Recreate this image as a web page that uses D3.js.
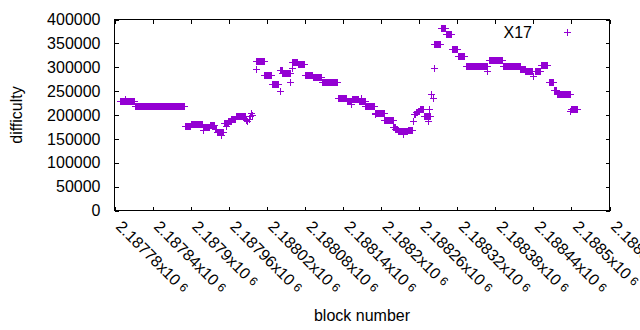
<!DOCTYPE html>
<html>
<head>
<meta charset="utf-8">
<script src="https://cdn.jsdelivr.net/npm/d3@7"></script>
<style>
  body { margin: 0; background: #fff; }
  text { font-family: "Liberation Sans", Arial, sans-serif; fill: #000; }
</style>
</head>
<body>
<div id="chart"></div>
<script>
const width = 640;
const height = 330;

// plot frame (pixel centres of the border lines)
const plotLeft = 114.5, plotRight = 609.5, plotTop = 19.5, plotBottom = 210.5;

// runs of blocks that share one difficulty value
const runStart = [2187789, 2187813, 2187892, 2187901, 2187920, 2187931, 2187939, 2187942,
    2187953, 2187960, 2187965, 2187972, 2188004, 2188017, 2188029, 2188042, 2188045,
    2188061, 2188070, 2188081, 2188093, 2188107, 2188133, 2188147, 2188155, 2188166,
    2188176, 2188192, 2188206, 2188220, 2188223, 2188227, 2188243, 2188253, 2188256,
    2188259, 2188262, 2188268, 2188285, 2188295, 2188303, 2188312, 2188322, 2188334,
    2188371, 2188393, 2188420, 2188428, 2188443, 2188453, 2188465, 2188473, 2188478,
    2188500];
const runEnd = [2187812, 2187891, 2187900, 2187919, 2187930, 2187938, 2187941, 2187952,
    2187959, 2187964, 2187971, 2187986, 2188016, 2188028, 2188039, 2188044, 2188057,
    2188069, 2188080, 2188092, 2188106, 2188132, 2188146, 2188153, 2188165, 2188175,
    2188190, 2188205, 2188219, 2188222, 2188226, 2188242, 2188250, 2188255, 2188258,
    2188261, 2188267, 2188278, 2188293, 2188302, 2188311, 2188321, 2188332, 2188367,
    2188392, 2188419, 2188427, 2188439, 2188452, 2188463, 2188471, 2188476, 2188498,
    2188509];
const runDifficulty = [229000, 218500, 175000, 181000, 174000, 177500, 170000, 164000,
    182500, 187000, 191500, 196000, 312500, 283500, 264500, 294000, 287500,
    310000, 306500, 282000, 279500, 268700, 235400, 229000, 233500, 228500,
    218500, 204000, 188000, 173000, 169000, 165500, 168000, 202000, 205000,
    208000, 212000, 197000, 348000, 381000, 368500, 337500, 323000, 301500,
    314300, 301500, 295000, 291500, 291000, 304500, 269000, 251000, 243700,
    211000];

// single blocks off their run
const oddBlock = [2187798, 2187920, 2187948, 2187957, 2187988, 2187990, 2187992, 2187994,
    2187996, 2187998, 2188003, 2188041, 2188058, 2188060, 2188154, 2188169, 2188191,
    2188235, 2188251, 2188275, 2188277, 2188279, 2188283, 2188284, 2188368, 2188440,
    2188494, 2188499];
const oddDifficulty = [232500, 167000, 157000, 175000, 188000, 186000, 190000, 197000,
    204000, 200000, 296000, 249500, 268700, 297000, 221400, 235000, 201000,
    159000, 186700, 187000, 211000, 242000, 234000, 298000, 292000, 281000,
    372000, 208000];

const xTicks = [2187780, 2187840, 2187900, 2187960, 2188020, 2188080, 2188140,
    2188200, 2188260, 2188320, 2188380, 2188440, 2188500, 2188560];
const xTickLabels = ["2.18778", "2.18784", "2.1879", "2.18796", "2.18802", "2.18808",
    "2.18814", "2.1882", "2.18826", "2.18832", "2.18838", "2.18844", "2.1885", "2.18856"];
const yTicks = [0, 50000, 100000, 150000, 200000, 250000, 300000, 350000, 400000];

const seriesName = "X17";
const color = "#9400d3";

const data = [];
runStart.forEach((s, i) => {
    for (let b = s; b <= runEnd[i]; b++) data.push({block: b, difficulty: runDifficulty[i]});
});
oddBlock.forEach((b, i) => data.push({block: b, difficulty: oddDifficulty[i]}));

const x = d3.scaleLinear().domain([xTicks[0], xTicks[xTicks.length - 1]]).range([plotLeft, plotRight]);
const y = d3.scaleLinear().domain([0, 400000]).range([plotBottom, plotTop]);

const svg = d3.select("#chart").append("svg")
    .attr("width", width)
    .attr("height", height);

// plus sign, 7px wide, sitting on whole pixels
const plus = "M-3,0.5H4M0.5,-3V4";

svg.append("g")
    .attr("shape-rendering", "crispEdges")
    .attr("stroke", color)
    .attr("fill", "none")
    .selectAll("path")
    .data(data).enter()
    .append("path")
    .attr("d", plus)
    .attr("transform", d => `translate(${Math.floor(x(d.block))},${Math.floor(y(d.difficulty))})`);

/* axes, ticks drawn inward and mirrored */
function styleAxis(g) {
    g.select(".domain").remove();
    g.selectAll("line").attr("stroke", "#000").attr("shape-rendering", "crispEdges");
    g.attr("font-size", null).attr("font-family", null);
}

svg.append("g")
    .attr("transform", `translate(${plotLeft},0)`)
    .call(d3.axisLeft(y).tickValues(yTicks).tickSize(-4).tickPadding(14).tickFormat(d3.format("d")))
    .call(styleAxis)
    .selectAll("text")
    .attr("font-size", "16px")
    .attr("dy", "0.32em");

svg.append("g")
    .attr("transform", `translate(${plotRight},0)`)
    .call(d3.axisRight(y).tickValues(yTicks).tickSize(-4).tickFormat(""))
    .call(styleAxis);

svg.append("g")
    .attr("transform", `translate(0,${plotTop})`)
    .call(d3.axisTop(x).tickValues(xTicks).tickSize(-4).tickFormat(""))
    .call(styleAxis);

const xAxis = svg.append("g")
    .attr("transform", `translate(0,${plotBottom})`)
    .call(d3.axisBottom(x).tickValues(xTicks).tickSize(-4).tickFormat(""))
    .call(styleAxis);

xAxis.selectAll(".tick text").remove();
xAxis.selectAll(".tick")
    .append("text")
    .attr("transform", "translate(0,17) rotate(45)")
    .attr("text-anchor", "start")
    .attr("font-size", "16px")
    .attr("fill", "#000")
    .each(function(d) {
        const t = d3.select(this);
        t.append("tspan").text(xTickLabels[xTicks.indexOf(d)] + "x10");
        t.append("tspan").attr("font-size", "12px").attr("dx", 4).attr("dy", -2).text("6");
    });

svg.append("rect")
    .attr("x", plotLeft).attr("y", plotTop)
    .attr("width", plotRight - plotLeft).attr("height", plotBottom - plotTop)
    .attr("fill", "none")
    .attr("stroke", "#000")
    .attr("shape-rendering", "crispEdges");

/* axis titles */
svg.append("text")
    .attr("x", (plotLeft + plotRight) / 2)
    .attr("y", 321)
    .attr("text-anchor", "middle")
    .attr("font-size", "16px")
    .text("block number");

svg.append("text")
    .attr("transform", `translate(22,${(plotTop + plotBottom) / 2}) rotate(-90)`)
    .attr("text-anchor", "middle")
    .attr("font-size", "16px")
    .text("difficulty");

/* key */
const key = svg.append("g").attr("transform", "translate(532,32)");
key.append("text")
    .attr("text-anchor", "end")
    .attr("y", 6)
    .attr("font-size", "16px")
    .text(seriesName);
key.append("path")
    .attr("d", plus)
    .attr("transform", "translate(35,0)")
    .attr("stroke", color)
    .attr("fill", "none")
    .attr("shape-rendering", "crispEdges");
</script>
</body>
</html>
